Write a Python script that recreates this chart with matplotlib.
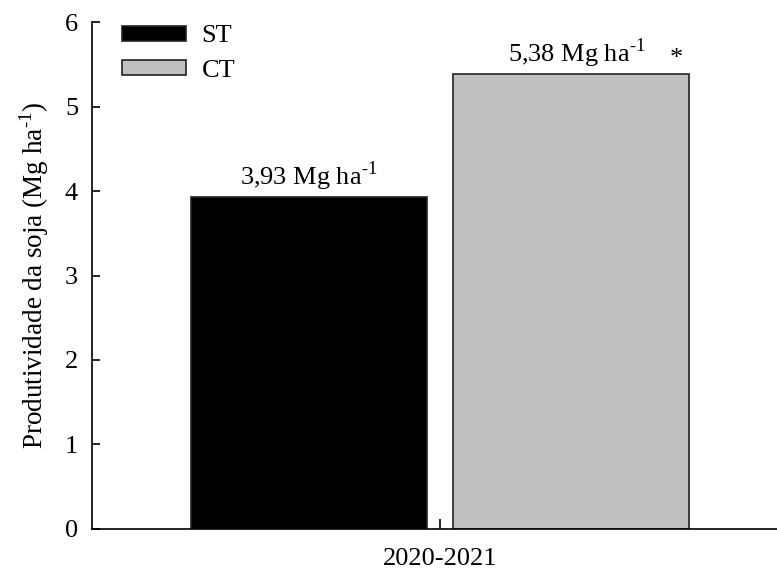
import matplotlib
matplotlib.use("Agg")
import matplotlib.pyplot as plt

# soybean yield, 2020-2021 season
season = ["2020-2021"]
treatments = ["ST", "CT"]
yields = [3.93, 5.38]
colors = ["#000000", "#c0c0c0"]
value_labels = [r"3,93 Mg ha$^{\text{-1}}$", r"5,38 Mg ha$^{\text{-1}}$"]
signif = ["", "*"]

plt.rcParams["font.family"] = ["Liberation Serif", "DejaVu Serif"]
plt.rcParams["mathtext.fontset"] = "custom"
plt.rcParams["mathtext.rm"] = "Liberation Serif"

fig = plt.figure(figsize=(7.77, 5.76), dpi=100)
ax = fig.add_axes([0.1184, 0.0816, 0.8816, 0.8802])

offsets = [-0.5, 0.5]
width = 0.9
for i, (name, val, col) in enumerate(zip(treatments, yields, colors)):
    ax.bar(offsets[i], val, width, color=col, edgecolor="#222222",
           linewidth=1.2, label=name)
    ax.annotate(value_labels[i], (offsets[i] + 0.02 * i, val),
                xytext=(0, 3), textcoords="offset points",
                ha="center", va="bottom", fontsize=19)
    if signif[i]:
        ax.annotate(signif[i], (offsets[i] + 0.4, val),
                    xytext=(0, 3), textcoords="offset points",
                    ha="center", va="bottom", fontsize=19)

ax.set_xlim(-1.328, 1.286)
ax.set_ylim(0, 6)
ax.set_xticks([0])
ax.set_xticklabels(season, fontsize=19)
ax.set_yticks(range(7))
ax.tick_params(axis="y", direction="in", length=6, width=1.2, labelsize=19, pad=10)
ax.tick_params(axis="x", direction="in", length=7, width=1.2, pad=14)
ax.spines["top"].set_visible(False)
ax.spines["right"].set_visible(False)
ax.spines["left"].set_linewidth(1.2)
ax.spines["bottom"].set_linewidth(1.2)
ax.set_ylabel(r"Produtividade da soja (Mg ha$^{\text{-1}}$)", fontsize=19.5, labelpad=10)

ax.legend(loc="upper left", bbox_to_anchor=(0.029, 1.014), frameon=False,
          fontsize=19, handlelength=2.4, handleheight=0.5,
          labelspacing=0.47, handletextpad=0.6, borderaxespad=0)

fig.savefig("out.png", dpi=100)
